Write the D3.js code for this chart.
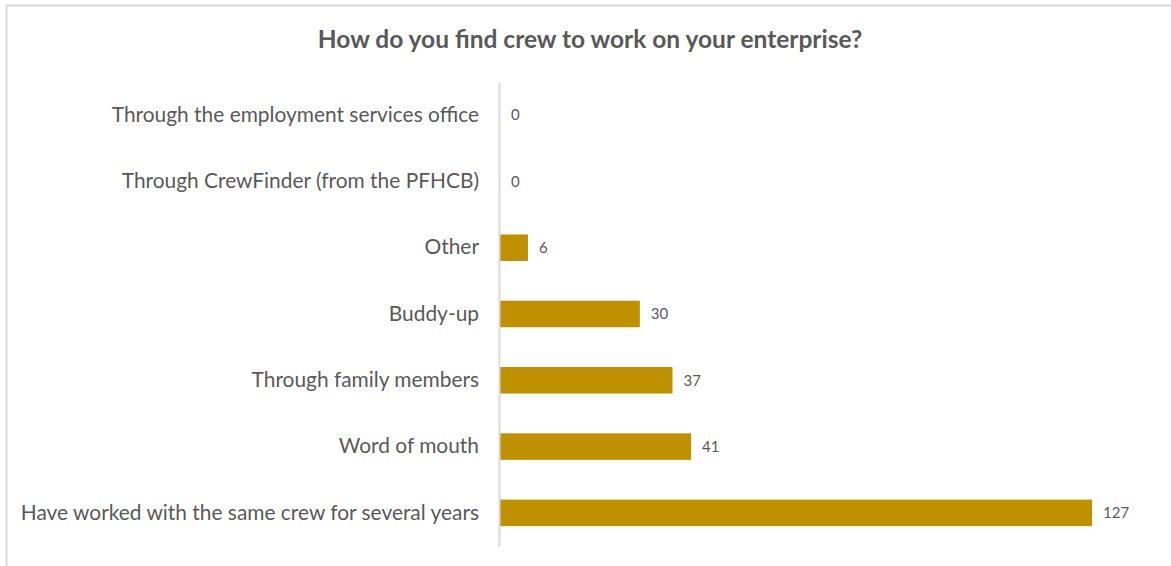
<!DOCTYPE html>
<html>
<head>
<meta charset="utf-8">
<script src="https://cdn.jsdelivr.net/npm/d3@7"></script>
<style>
  html, body { margin: 0; padding: 0; background: #fff; }
  svg { display: block; }
</style>
</head>
<body>
<svg id="chart" width="1171" height="566"></svg>
<script>
// Survey responses: how crew are found
const categories = [
  "Through the employment services office",
  "Through CrewFinder (from the PFHCB)",
  "Other",
  "Buddy-up",
  "Through family members",
  "Word of mouth",
  "Have worked with the same crew for several years"
];
const counts = [0, 0, 6, 30, 37, 41, 127];
const chartTitle = "How do you find crew to work on your enterprise?";

const svg = d3.select("#chart");
const W = 1171, H = 566;
const font = "Lato, 'Open Sans', sans-serif";
const textColor = "#595959";
const barColor = "#BF9000";

// chart area border
svg.append("rect")
  .attr("x", 6.5).attr("y", 5.5)
  .attr("width", W + 10).attr("height", H + 10)
  .attr("fill", "none").attr("stroke", "#d9d9d9").attr("stroke-width", 2);

// title
svg.append("text")
  .attr("x", 590).attr("y", 48)
  .attr("text-anchor", "middle")
  .attr("font-family", font)
  .attr("font-weight", "bold")
  .attr("font-size", 24.5)
  .attr("fill", textColor)
  .text(chartTitle);

const x = d3.scaleLinear().domain([0, 127]).range([500, 1092]);
const y = d3.scaleBand().domain(categories).range([82, 546]).paddingInner(0.6).paddingOuter(0.3);

// bars
svg.append("g").selectAll("rect")
  .data(categories)
  .join("rect")
  .attr("x", x(0))
  .attr("y", d => y(d))
  .attr("width", (d, i) => x(counts[i]) - x(0))
  .attr("height", y.bandwidth())
  .attr("fill", barColor);

// value labels
svg.append("g").selectAll("text")
  .data(categories)
  .join("text")
  .attr("x", (d, i) => x(counts[i]) + 11)
  .attr("y", d => y(d) + y.bandwidth() / 2)
  .attr("dy", "0.35em")
  .attr("font-family", font)
  .attr("font-size", 15)
  .attr("fill", textColor)
  .text((d, i) => counts[i]);

// category axis
const axis = svg.append("g")
  .attr("transform", `translate(${x(0) - 1},0)`)
  .call(d3.axisLeft(y).tickSize(0).tickPadding(20));
axis.select(".domain").attr("stroke", "#d9d9d9").attr("stroke-width", 2);
axis.selectAll("text")
  .attr("font-family", font)
  .attr("font-size", 20.9)
  .attr("fill", textColor);
</script>
</body>
</html>
